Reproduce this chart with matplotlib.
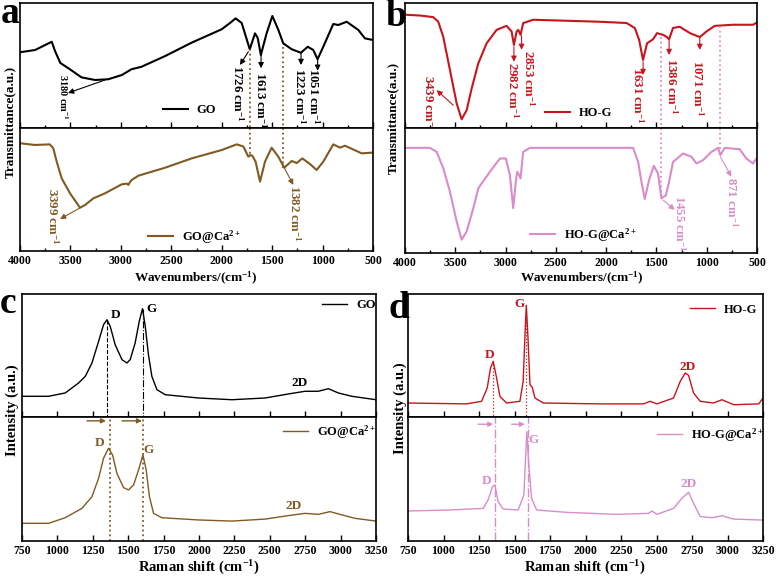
"""FTIR (a, b) and Raman (c, d) spectra of GO / HO-G before and after Ca2+ loading."""
import matplotlib
matplotlib.use('Agg')
import matplotlib.pyplot as plt
from matplotlib.ticker import MultipleLocator

plt.rcParams['font.family'] = ['Liberation Serif', 'DejaVu Serif']
plt.rcParams['font.weight'] = 'bold'
plt.rcParams['mathtext.fontset'] = 'custom'
plt.rcParams['mathtext.rm'] = 'Liberation Serif:bold'
plt.rcParams['mathtext.it'] = 'Liberation Serif:bold'
plt.rcParams['mathtext.bf'] = 'Liberation Serif:bold'

# ---- data (y = fraction of each sub-panel height) ----
go_ir_wn = [4000, 3850, 3750, 3685, 3655, 3600, 3520, 3390, 3255, 3125, 2990, 2895, 2795, 2560, 2300,
            2000, 1918, 1862, 1802, 1760, 1722, 1670, 1643, 1612, 1555, 1498, 1438, 1390, 1306, 1215,
            1147, 1092, 1050, 993, 894, 844, 761, 645, 580, 500]
go_ir_t = [0.606, 0.624, 0.664, 0.690, 0.620, 0.520, 0.478, 0.405, 0.384, 0.390, 0.424, 0.470, 0.490,
           0.576, 0.682, 0.790, 0.840, 0.877, 0.840, 0.730, 0.630, 0.757, 0.720, 0.584, 0.757, 0.896,
           0.784, 0.677, 0.630, 0.602, 0.650, 0.624, 0.550, 0.650, 0.832, 0.824, 0.850, 0.784, 0.717, 0.704]

goca_ir_wn = [4000, 3850, 3705, 3670, 3636, 3587, 3504, 3405, 3355, 3273, 3157, 2992, 2940, 2926, 2910,
              2893, 2827, 2562, 2298, 2000, 1851, 1786, 1736, 1716, 1697, 1664, 1620, 1571, 1505, 1439,
              1380, 1306, 1256, 1201, 1125, 1059, 993, 894, 827, 778, 612, 500]
goca_ir_t = [0.876, 0.862, 0.867, 0.835, 0.726, 0.591, 0.469, 0.352, 0.374, 0.428, 0.469, 0.542, 0.548,
             0.537, 0.560, 0.577, 0.612, 0.677, 0.753, 0.821, 0.867, 0.850, 0.767, 0.780, 0.775, 0.726,
             0.564, 0.726, 0.840, 0.767, 0.677, 0.732, 0.715, 0.753, 0.707, 0.659, 0.726, 0.867, 0.840,
             0.856, 0.794, 0.800]

hog_ir_wn = [4000, 3850, 3720, 3670, 3620, 3553, 3486, 3437, 3387, 3337, 3271, 3188, 3089, 2990, 2940,
             2917, 2890, 2874, 2851, 2825, 2726, 2063, 1798, 1715, 1672, 1633, 1593, 1533, 1494, 1434,
             1400, 1374, 1335, 1268, 1169, 1069, 1003, 920, 739, 540, 500]
hog_ir_t = [0.906, 0.900, 0.887, 0.852, 0.731, 0.464, 0.196, 0.070, 0.142, 0.317, 0.518, 0.678, 0.785,
            0.817, 0.772, 0.665, 0.772, 0.785, 0.745, 0.839, 0.866, 0.850, 0.840, 0.800, 0.705, 0.544,
            0.678, 0.710, 0.759, 0.745, 0.730, 0.710, 0.800, 0.810, 0.760, 0.727, 0.772, 0.817, 0.826,
            0.826, 0.844]

hogca_ir_wn = [4000, 3752, 3685, 3619, 3553, 3486, 3437, 3387, 3321, 3271, 3156, 3056, 2997, 2957, 2924,
               2897, 2884, 2864, 2851, 2825, 2758, 2394, 1732, 1682, 1649, 1616, 1573, 1526, 1484, 1450,
               1407, 1374, 1335, 1235, 1152, 1102, 1036, 953, 887, 864, 821, 672, 606, 540, 500]
hogca_ir_t = [0.841, 0.841, 0.809, 0.677, 0.490, 0.252, 0.106, 0.172, 0.358, 0.518, 0.650, 0.756, 0.756,
              0.623, 0.358, 0.580, 0.650, 0.623, 0.597, 0.809, 0.841, 0.841, 0.841, 0.729, 0.570, 0.432,
              0.584, 0.697, 0.636, 0.438, 0.460, 0.570, 0.729, 0.796, 0.770, 0.716, 0.743, 0.809, 0.841,
              0.783, 0.841, 0.830, 0.756, 0.716, 0.761]

go_ra_x = [750, 938, 1055, 1149, 1197, 1244, 1291, 1326, 1350, 1373, 1408, 1456, 1491, 1514, 1549, 1578,
           1601, 1620, 1643, 1667, 1703, 1761, 1996, 2232, 2467, 2631, 2749, 2843, 2914, 2984, 3079, 3250]
go_ra_y = [0.165, 0.165, 0.192, 0.273, 0.328, 0.437, 0.614, 0.750, 0.790, 0.736, 0.586, 0.464, 0.437,
           0.464, 0.600, 0.777, 0.880, 0.740, 0.505, 0.328, 0.219, 0.178, 0.151, 0.137, 0.151, 0.184,
           0.206, 0.206, 0.227, 0.192, 0.165, 0.137]

goca_ra_x = [750, 938, 1055, 1173, 1244, 1291, 1326, 1361, 1390, 1420, 1467, 1502, 1538, 1573, 1604, 1627,
             1650, 1679, 1738, 1996, 2232, 2467, 2631, 2749, 2843, 2925, 3008, 3102, 3250]
goca_ra_y = [0.142, 0.142, 0.187, 0.262, 0.356, 0.504, 0.665, 0.745, 0.690, 0.544, 0.429, 0.410, 0.450,
             0.571, 0.692, 0.571, 0.356, 0.222, 0.187, 0.169, 0.160, 0.176, 0.204, 0.222, 0.214, 0.236,
             0.210, 0.182, 0.160]

hog_ra_x = [750, 1162, 1268, 1308, 1331, 1350, 1374, 1397, 1444, 1538, 1561, 1573, 1583, 1595, 1609, 1625,
            1644, 1703, 2103, 2408, 2455, 2503, 2620, 2667, 2702, 2726, 2761, 2808, 2902, 2961, 3043,
            3220, 3250]
hog_ra_y = [0.110, 0.103, 0.124, 0.233, 0.396, 0.450, 0.314, 0.165, 0.110, 0.124, 0.287, 0.641, 0.908,
            0.641, 0.260, 0.240, 0.151, 0.110, 0.103, 0.103, 0.124, 0.103, 0.151, 0.287, 0.355, 0.336,
            0.192, 0.124, 0.110, 0.137, 0.096, 0.103, 0.151]

hogca_ra_x = [750, 1044, 1279, 1314, 1345, 1362, 1385, 1420, 1526, 1566, 1580, 1587, 1599, 1620, 1656,
              1867, 2220, 2443, 2467, 2503, 2620, 2679, 2726, 2761, 2808, 2891, 2961, 3043, 3250]
hogca_ra_y = [0.241, 0.249, 0.262, 0.330, 0.437, 0.450, 0.316, 0.257, 0.249, 0.370, 0.718, 0.879, 0.638,
              0.343, 0.249, 0.230, 0.214, 0.222, 0.241, 0.214, 0.262, 0.343, 0.391, 0.303, 0.196, 0.187,
              0.203, 0.176, 0.168]

C_GO, C_GOCA, C_HOG, C_HOGCA = '#000000', '#805a22', '#c4161c', '#d98cc9'

W, H = 776, 577
fig = plt.figure(figsize=(W / 100, H / 100), dpi=100, facecolor='white')


def box(l, t, r, b):
    return [l / W, 1 - b / H, (r - l) / W, (b - t) / H]


def pair(l, r, t, m, b, xlim, major, minor):
    top = fig.add_axes(box(l, t, r, m))
    bot = fig.add_axes(box(l, m, r, b))
    for ax in (top, bot):
        ax.set_xlim(*xlim)
        ax.set_ylim(0, 1)
        ax.set_yticks([])
        ax.xaxis.set_major_locator(MultipleLocator(major))
        if minor:
            ax.xaxis.set_minor_locator(MultipleLocator(minor))
        ax.tick_params(axis='x', which='major', direction='in', length=4, width=1, labelsize=8.5, pad=3)
        ax.tick_params(axis='x', which='minor', direction='in', length=2.5, width=1)
        for s in ax.spines.values():
            s.set_linewidth(1.2)
    top.tick_params(axis='x', which='both', labelbottom=False)
    return top, bot


def legend(ax, x, y):
    ax.legend(loc='center left', bbox_to_anchor=(x, y), frameon=False, fontsize=9, handlelength=2.0,
              handletextpad=0.7, borderpad=0, borderaxespad=0)


def mark(ax, label, p0, p1, t, color, fs=9.3):
    ax.annotate('', xy=p1, xytext=p0, annotation_clip=False,
                arrowprops=dict(arrowstyle='-|>', color=color, lw=0.8, mutation_scale=8, shrinkA=0, shrinkB=0))
    ax.text(t[0], t[1], label, rotation=270, ha='center', va='top', color=color, fontsize=fs, clip_on=False)


def px(x, y):
    return x / W, 1 - y / H


cm = ' cm$^{-1}$'

# ---------------- (a) FTIR GO ----------------
a1, a2 = pair(20, 373, 3, 128, 251, (4000, 500), 500, 250)
a1.plot(go_ir_wn, go_ir_t, color=C_GO, lw=1.5, label='GO')
a2.plot(goca_ir_wn, goca_ir_t, color=C_GOCA, lw=1.5, label='GO@Ca$^{2+}$')
legend(a1, 0.405, 0.144)
legend(a2, 0.362, 0.116)
a1.plot([1722, 1722], [0.63, 0], ls=':', color=C_GOCA, lw=1.3, clip_on=False)
a2.plot([1722, 1722], [1, 0.767], ls=':', color=C_GOCA, lw=1.3)
a1.plot([1389, 1389], [0.65, 0], ls=':', color=C_GOCA, lw=1.3, clip_on=False)
a2.plot([1389, 1389], [1, 0.677], ls=':', color=C_GOCA, lw=1.3)
mark(a1, '3180 cm$^{-1}$', (3157, 0.384), (3524, 0.28), (3569, 0.43), C_GO, fs=7.5)
mark(a1, '1726' + cm, (1736, 0.61), (1819, 0.504), (1843, 0.504), C_GO)
mark(a1, '1613' + cm, (1610, 0.584), (1610, 0.478), (1610, 0.448), C_GO)
mark(a1, '1223' + cm, (1214, 0.602), (1214, 0.504), (1224, 0.48), C_GO)
mark(a1, '1051' + cm, (1049, 0.55), (1049, 0.458), (1085, 0.48), C_GO)
mark(a2, '3399' + cm, (3405, 0.35), (3603, 0.26), (3678, 0.512), C_GOCA)
mark(a2, '1382' + cm, (1380, 0.677), (1290, 0.537), (1278, 0.537), C_GOCA)

# ---------------- (b) FTIR HO-G ----------------
b1, b2 = pair(405, 757, 3, 128, 253, (4000, 500), 500, 250)
b1.plot(hog_ir_wn, hog_ir_t, color=C_HOG, lw=1.5, label='HO-G')
b2.plot(hogca_ir_wn, hogca_ir_t, color=C_HOGCA, lw=1.5, label='HO-G@Ca$^{2+}$')
legend(b1, 0.397, 0.118)
legend(b2, 0.355, 0.146)
b1.plot([1450, 1450], [0.73, 0], ls=':', color=C_HOGCA, lw=1.3, clip_on=False)
b2.plot([1450, 1450], [1, 0.44], ls=':', color=C_HOGCA, lw=1.3)
b1.plot([871, 871], [0.82, 0], ls=':', color=C_HOGCA, lw=1.3, clip_on=False)
b2.plot([871, 871], [1, 0.78], ls=':', color=C_HOGCA, lw=1.3)
mark(b1, '3439' + cm, (3520, 0.182), (3685, 0.303), (3762, 0.424), C_HOG)
mark(b1, '2982' + cm, (2917, 0.651), (2917, 0.53), (2927, 0.528), C_HOG)
mark(b1, '2853' + cm, (2841, 0.737), (2841, 0.625), (2775, 0.625), C_HOG)
mark(b1, '1631' + cm, (1633, 0.53), (1633, 0.424), (1690, 0.488), C_HOG)
mark(b1, '1386' + cm, (1374, 0.705), (1374, 0.584), (1351, 0.56), C_HOG)
mark(b1, '1071' + cm, (1069, 0.719), (1069, 0.625), (1086, 0.544), C_HOG)
mark(b2, '1455' + cm, (1434, 0.424), (1318, 0.345), (1273, 0.464), C_HOGCA)
mark(b2, '871' + cm, (864, 0.769), (755, 0.61), (755, 0.607), C_HOGCA)

# ---------------- (c) Raman GO ----------------
c1, c2 = pair(22, 376, 294, 416.5, 541, (750, 3250), 250, None)
c1.plot(go_ra_x, go_ra_y, color=C_GO, lw=1.0, label='GO')
c2.plot(goca_ra_x, goca_ra_y, color=C_GOCA, lw=1.0, label='GO@Ca$^{2+}$')
legend(c1, 0.848, 0.908)
legend(c2, 0.737, 0.874)
c1.plot([1350, 1350], [0.79, 0], ls='--', color=C_GO, lw=0.8)
c1.plot([1601, 1601], [0.88, 0], ls='-.', color=C_GO, lw=0.8)
c2.axvline(1368, ls=':', color=C_GOCA, lw=1.3)
c2.axvline(1608, ls=':', color=C_GOCA, lw=1.3)
arr = dict(arrowstyle='-|>', lw=1.0, mutation_scale=7, shrinkA=0, shrinkB=0)
c2.annotate('', xy=(1343, 0.965), xytext=(1209, 0.965), arrowprops=dict(arr, color=C_GOCA))
c2.annotate('', xy=(1597, 0.965), xytext=(1456, 0.965), arrowprops=dict(arr, color=C_GOCA))
for ax, col, pts in ((c1, C_GO, [(1408, 0.831, 'D'), (1667, 0.88, 'G'), (2714, 0.273, '2D')]),
                     (c2, C_GOCA, [(1300, 0.785, 'D'), (1646, 0.728, 'G'), (2666, 0.282, '2D')])):
    for x, y, s in pts:
        ax.text(x, y, s, color=col, fontsize=9.5, ha='center', va='center')

# ---------------- (d) Raman HO-G ----------------
d1, d2 = pair(408, 763, 294, 416.5, 541, (750, 3250), 250, None)
d1.plot(hog_ra_x, hog_ra_y, color=C_HOG, lw=1.0, label='HO-G')
d2.plot(hogca_ra_x, hogca_ra_y, color=C_HOGCA, lw=1.0, label='HO-G@Ca$^{2+}$')
legend(d1, 0.795, 0.872)
legend(d2, 0.701, 0.853)
d1.plot([1350, 1350], [0.45, 0], ls=':', color=C_HOG, lw=0.9)
d1.plot([1581, 1581], [0.908, 0], ls=':', color=C_HOG, lw=0.9)
d2.axvline(1362, ls='-.', color=C_HOGCA, lw=1.0)
d2.axvline(1592, ls='-.', color=C_HOGCA, lw=1.0)
d2.annotate('', xy=(1350, 0.938), xytext=(1244, 0.938), arrowprops=dict(arr, color=C_HOGCA))
d2.annotate('', xy=(1573, 0.938), xytext=(1480, 0.938), arrowprops=dict(arr, color=C_HOGCA))
for ax, col, pts in ((d1, C_HOG, [(1321, 0.504, 'D'), (1535, 0.917, 'G'), (2718, 0.407, '2D')]),
                     (d2, C_HOGCA, [(1300, 0.485, 'D'), (1637, 0.813, 'G'), (2723, 0.455, '2D')])):
    for x, y, s in pts:
        ax.text(x, y, s, color=col, fontsize=9.5, ha='center', va='center')

# ---------------- axis titles & panel letters ----------------
for x, y in ((196, 278), (582, 278)):
    fig.text(*px(x, y), 'Wavenumbers/(cm$^{-1}$)', ha='center', va='center', fontsize=9.5)
for x, y in ((199, 568), (585, 568)):
    fig.text(*px(x, y), 'Raman shift (cm$^{-1}$)', ha='center', va='center', fontsize=10.5)
for x, y in ((10, 122), (393, 118)):
    fig.text(*px(x, y), 'Transmittance(a.u.)', rotation=90, ha='center', va='center', fontsize=9.5)
for x, y in ((12.5, 410), (400, 408)):
    fig.text(*px(x, y), 'Intensity (a.u.)', rotation=90, ha='center', va='center', fontsize=10.5)
for x, y, s in ((1, 23, 'a'), (385, 26, 'b'), (0, 313, 'c'), (388, 318, 'd')):
    fig.text(*px(x, y), s, fontsize=27, ha='left', va='baseline')

plt.savefig('out.png', dpi=100, facecolor='white')
